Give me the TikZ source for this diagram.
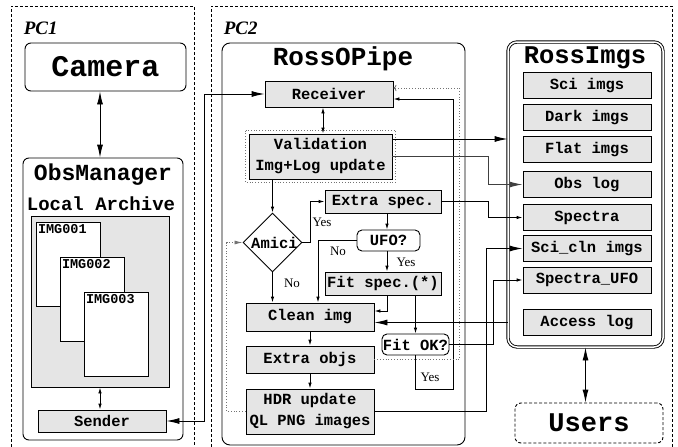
\documentclass[tikz,border=0pt]{standalone}
\usepackage{fontspec}
\setmainfont{Liberation Serif}
\setmonofont{Liberation Mono}
\usetikzlibrary{arrows.meta,shapes.geometric}
\definecolor{boxgray}{gray}{0.9}
\newcommand\procfont{\fontsize{15.5}{21}\selectfont\ttfamily\bfseries}
\newcommand\imgfont{\fontsize{13.5}{15}\selectfont\ttfamily\bfseries}
\newcommand\bigttfont[1]{\fontsize{#1}{#1}\selectfont\ttfamily\bfseries}
\newcommand\ynfont{\fontsize{13}{13}\selectfont}
\newcommand\pcfont{\fontsize{19}{19}\selectfont\bfseries\itshape}

\begin{document}
\begin{tikzpicture} [x=1pt, y=-1pt, line width=0.9pt, %
  pcframe/.style={dash pattern=on 3pt off 2pt, line width=0.7pt}, %
  proc/.style={draw, fill=boxgray, font=\procfont, inner sep=0pt, align=center}, %
  query/.style={draw, fill=white, rounded corners=5pt, font=\procfont, inner sep=0pt}, %
  dbentry/.style={proc, minimum width=128, minimum height=26}, %
  arrbig/.style={-{Latex[length=13pt, width=6pt]}}, %
  arrsmall/.style={-{Latex[length=6pt, width=3.5pt]}}, %
  dblbig/.style={{Latex[length=13pt, width=6pt]}-{Latex[length=13pt, width=6pt]}}, %
  dblsmall/.style={{Latex[length=6pt, width=3.5pt]}-{Latex[length=6pt, width=3.5pt]}}, %
  dots/.style={dotted, line width=0.8pt, black!55}, %
  yn/.style={font=\ynfont, inner sep=1pt}] %
\useasboundingbox (0,0) rectangle (678,447); %
 %
% the two machines
\draw [pcframe] (11,447) -- (11,6) -- (194,6) -- (194,447); %
\draw [pcframe] (211,447) -- (211,6) -- (672,6) -- (672,447); %
\node [anchor=west, font=\pcfont] (pc1) at (20,28) {PC1}; %
\node [anchor=west, font=\pcfont] (pc2) at (220,28) {PC2}; %
 %
% PC1
\node [draw, rounded corners=6pt, minimum width=161, minimum height=48, font=\bigttfont{30}] (camera) at (105.5,67) {Camera}; %
\node [draw, rounded corners=6pt, minimum width=160, minimum height=282] (obsman) at (103,299) {}; %
\node [font=\bigttfont{23}] (obstitle) at (103,175) {ObsManager}; %
\node [font=\bigttfont{19}] (archtitle) at (101,204) {Local Archive}; %
\node [draw, fill=boxgray, minimum width=138, minimum height=171] (archive) at (100,301.5) {}; %
\foreach \i in {1,2,3} { %
  \node [draw, fill=white, minimum width=64, minimum height=84] (img\i) at ({44+24*\i},{229+35*\i}) {}; %
  \node [anchor=north west, font=\imgfont, inner sep=2pt] (imglabel\i) at (img\i.north west) {IMG00\i}; %
} %
\node [proc, minimum width=128, minimum height=22] (sender) at (102,421) {Sender}; %
 %
% PC2: pipeline
\node [draw, rounded corners=8pt, minimum width=243, minimum height=402] (pipe) at (343.5,244) {}; %
\node [font=\bigttfont{26}] (pipetitle) at (343,59) {RossOPipe}; %
\node [proc, minimum width=128, minimum height=26] (receiver) at (329,94) {Receiver}; %
\node [proc, minimum width=143, minimum height=45] (valid) at (320.5,156.5) {Validation\\Img+Log update}; %
\draw [dots] ([xshift=-3pt,yshift=3pt]valid.north west) rectangle ([xshift=3pt,yshift=-3pt]valid.south east); %
\node [proc, minimum width=116, minimum height=23] (xspec) at (383,201.5) {Extra spec.}; %
\node [draw, diamond, fill=white, minimum width=59, minimum height=59, inner sep=0pt] (amici) at (272.5,242.5) {}; %
\node [font=\procfont, inner sep=0pt] (amicilabel) at ([xshift=2pt]amici.center) {Amici}; %
\node [query, minimum width=63, minimum height=21] (ufo) at (388.5,240.5) {UFO?}; %
\node [proc, minimum width=116, minimum height=23] (fitspec) at (383,283.5) {Fit spec.(*)}; %
\node [proc, minimum width=128, minimum height=28] (clean) at (310,317) {Clean img}; %
\node [query, minimum width=67, minimum height=21] (fitok) at (415.5,344.5) {Fit OK?}; %
\node [proc, minimum width=128, minimum height=27] (xobjs) at (310,359.5) {Extra objs}; %
\node [proc, minimum width=128, minimum height=45] (hdr) at (310,411.5) {HDR update\\QL PNG images}; %
 %
% PC2: archive
\node [draw, double, double distance=1.5pt, rounded corners=9pt, minimum width=155, minimum height=305] (rossimgs) at (585.5,194.5) {}; %
\node [font=\bigttfont{25.5}] (rosstitle) at (585,58) {RossImgs}; %
\foreach \y/\nm/\txt in {85.5/sci/Sci imgs, 117.5/dark/Dark imgs, 149.5/flat/Flat imgs, %
  184.5/obslog/Obs log, 217.5/spectra/Spectra, 248.5/scicln/Sci\_cln imgs, %
  280/specufo/Spectra\_UFO, 322.5/access/Access log} %
  \node [dbentry] (\nm) at (587,\y) {\txt}; %
\node [draw, pcframe, line width=0.9pt, rounded corners=6pt, minimum width=148, minimum height=40, font=\bigttfont{27}] (users) at (589,423) {Users}; %
 %
% connectors
\draw [dblbig] (camera.south -| archive) -- (obsman.north -| archive); %
\draw [dblsmall] (archive.south) -- (archive.south |- sender.north); %
\draw [dblbig] (sender.east) -- ++(38,0) |- (receiver.west); %
\draw [dblsmall] ([xshift=-6pt]receiver.south) -- ([xshift=-6pt]receiver.south |- valid.north); %
\draw [arrsmall] (valid.south -| amici.north) -- (amici.north); %
\draw [arrsmall] (amici.east) -- ++(8,0) |- (xspec.west); %
\node [yn] (yes1) at (322,222) {Yes}; %
\draw [arrsmall] (amici.south) -- (amici.south |- clean.north); %
\node [yn] (no1) at (292,283) {No}; %
\draw [arrsmall] ([xshift=4pt]xspec.south) -- ([xshift=4pt]xspec.south |- ufo.north); %
\draw [arrsmall] (ufo.west) -| ([xshift=8pt]clean.north); %
\node [yn] (no2) at (338,251) {No}; %
\draw [arrsmall] ([xshift=-1.5pt]ufo.south) -- ([xshift=-1.5pt]ufo.south |- fitspec.north); %
\node [yn] (yes2) at (406,262) {Yes}; %
\draw [arrsmall] ([xshift=4pt]fitspec.south) |- ([yshift=6pt]clean.east); %
\draw [arrsmall] (fitspec.south -| fitok.north) -- (fitok.north); %
\draw [arrbig] (rossimgs.west |- access.west) -- (clean.east |- access.west); %
\draw [arrsmall] (fitok.east) -- ++(44,0) |- (specufo.west); %
\draw [arrsmall] (fitok.south) -- ++(0,34) -- ++(37.5,0) |- ([yshift=-5pt]receiver.east); %
\node [yn] (yes3) at (430,377) {Yes}; %
\draw [arrsmall] (clean.south) -- (xobjs.north); %
\draw [arrsmall] (xobjs.south) -- (hdr.north); %
\draw [dots, -{To[length=3pt]}] (xobjs.east) -- ++(85,0) |- ([yshift=6pt]receiver.east); %
\draw [dots, -{Latex[length=8pt, width=4pt]}] (hdr.west) -- ++(-19,0) |- (amici.west); %
\coordinate (vtop) at ([yshift=17.5pt]valid.east); %
\draw [arrbig] (vtop) -- (vtop -| rossimgs.west); %
\draw [arrbig, black!75, line width=1.1pt] (valid.east) -- ++(96,0) |- (obslog.west); %
\draw [arrsmall] (xspec.east) -- ++(47,0) |- (spectra.west); %
\draw [arrbig] (hdr.east) -- ++(112,0) |- (scicln.west); %
\draw [dblbig] (rossimgs.south) -- (rossimgs.south |- users.north); %
\end{tikzpicture}
\end{document}
